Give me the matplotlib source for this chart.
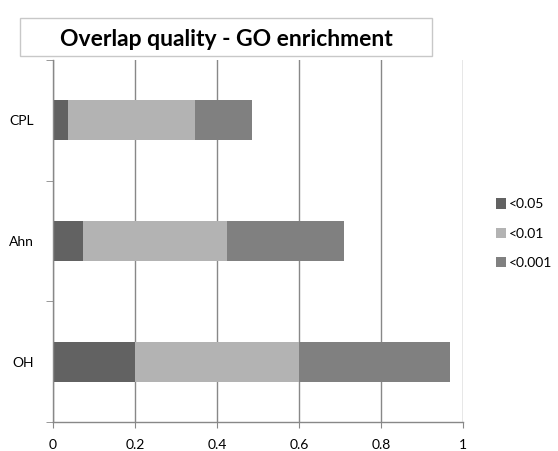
import matplotlib.pyplot as plt
from matplotlib.patches import Rectangle

# datos de la grafica: fraccion de solapamiento por umbral de p-valor
grupos = ["OH", "Ahn", "CPL"]
series = ["<0.05", "<0.01", "<0.001"]
p005 = [0.200, 0.072, 0.036]
p001 = [0.400, 0.353, 0.311]
p0001 = [0.368, 0.284, 0.139]
colores = ["#626262", "#b3b3b3", "#808080"]
x_ticks = [0, 0.2, 0.4, 0.6, 0.8, 1]
x_labels = ["0", "0.2", "0.4", "0.6", "0.8", "1"]

plt.rcParams["font.family"] = ["Lato", "DejaVu Sans"]

fig = plt.figure(figsize=(5.58, 4.51), dpi=100)
ax = fig.add_axes([53 / 558, 1 - 422 / 451, 410 / 558, 362 / 451])

y = list(range(len(grupos)))
izquierda = [0.0] * len(grupos)
for nombre, valores, color in zip(series, [p005, p001, p0001], colores):
    ax.barh(y, valores, left=izquierda, height=0.33, color=color,
            label=nombre, edgecolor="none")
    izquierda = [a + b for a, b in zip(izquierda, valores)]

ax.set_xlim(0, 1)
ax.set_ylim(-0.5, 2.5)
ax.set_xticks(x_ticks)
ax.set_xticklabels(x_labels)
ax.set_yticks(y)
ax.set_yticklabels(grupos)
ax.set_yticks([-0.5, 0.5, 1.5, 2.5], minor=True)

gris = "#888888"
ax.xaxis.grid(True, color=gris, linewidth=1.0)
ax.set_axisbelow(True)
for lado in ["top", "right"]:
    ax.spines[lado].set_visible(False)
for lado in ["left", "bottom"]:
    ax.spines[lado].set_color(gris)
    ax.spines[lado].set_linewidth(1.0)

ax.tick_params(axis="x", length=4, color=gris, pad=8, labelsize=10,
               labelcolor="#000000")
ax.tick_params(axis="y", which="major", length=0, pad=14, labelsize=10)
ax.tick_params(axis="y", which="minor", length=5, color=gris)

# leyenda a la derecha
leg = ax.legend(loc="center left", bbox_to_anchor=(1.05, 0.52), frameon=False,
                fontsize=10, handlelength=0.75, handleheight=0.75,
                handletextpad=0.2, labelspacing=1.25)

# titulo dentro de un recuadro
caja = Rectangle((20 / 558, 1 - 56 / 451), 412 / 558, 38 / 451,
                 transform=fig.transFigure, facecolor="white",
                 edgecolor="#c8c8c8", linewidth=1.0)
fig.patches.append(caja)
fig.text(226 / 558, 1 - 39 / 451, "Overlap quality - GO enrichment",
         ha="center", va="center", fontsize=16.5, fontweight="bold")

fig.savefig("out.png", dpi=100)
